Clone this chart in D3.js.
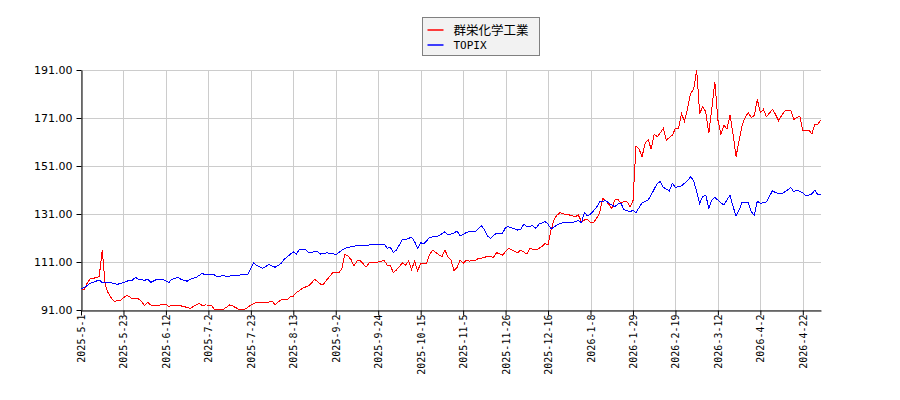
<!DOCTYPE html>
<html>
<head>
<meta charset="utf-8">
<script src="https://cdn.jsdelivr.net/npm/d3@7"></script>
<style>
  body { margin: 0; background: #fff; }
  svg { display: block; }
</style>
</head>
<body>
<svg id="chart" width="900" height="400"></svg>
<script>
// tick labels, one every 14 trading days
const tickLabels = [
    '2025-5-1', '2025-5-23', '2025-6-12', '2025-7-2', '2025-7-23', '2025-8-13',
    '2025-9-2', '2025-9-24', '2025-10-15', '2025-11-5', '2025-11-26', '2025-12-16',
    '2026-1-8', '2026-1-29', '2026-2-19', '2026-3-12', '2026-4-2', '2026-4-22'
];
const tickStep = 14;
const lastIndex = 244;

const yTicks = [91, 111, 131, 151, 171, 191];

const seriesNames = ['群栄化学工業', 'TOPIX'];
const seriesColors = ['#ff0000', '#0000ff'];

// [trading day index, relative value]
const companySeries = [
    [0,100.0],[1,99.3],[2,102.1],[3,103.9],[5,104.5],[6,104.9],[7,116.0],[8,101.5],[9,98.0],[10,96.0],
    [11,94.5],[12,95.0],[13,95.0],[15,97.1],[16,96.5],[17,95.6],[19,95.6],[20,94.5],[21,92.8],[22,94.2],
    [23,93.1],[25,92.7],[26,93.1],[28,93.5],[29,92.4],[30,93.0],[32,93.0],[34,92.4],[36,91.7],[39,93.8],
    [40,92.8],[41,93.1],[43,93.0],[44,91.3],[47,91.3],[49,93.1],[50,92.7],[52,91.3],[54,91.3],[56,93.0],
    [58,94.3],[60,94.3],[62,94.3],[63,94.75],[64,93.1],[65,94.4],[66,95.2],[68,95.4],[69,96.5],[70,96.8],
    [71,98.2],[73,100.0],[75,101.1],[76,102.1],[77,103.8],[79,101.8],[80,101.8],[81,103.5],[83,106.5],[85,106.6],
    [86,108.0],[87,114.2],[88,113.5],[89,112.1],[90,109.3],[91,111.4],[92,111.6],[93,110.3],[94,108.9],[95,110.6],
    [96,110.7],[98,111.0],[100,111.6],[101,109.6],[102,109.6],[103,106.5],[104,107.7],[106,110.6],[107,109.6],[108,111.4],
    [109,107.9],[110,111.4],[111,107.3],[112,110.3],[114,110.5],[115,114.3],[116,116.0],[117,114.9],[119,113.2],[120,116.0],
    [121,113.2],[122,111.8],[123,107.4],[124,108.75],[125,111.8],[126,110.4],[127,111.8],[128,111.4],[130,111.5],[131,112.5],
    [133,112.8],[134,113.5],[136,112.9],[137,114.9],[139,113.9],[141,116.7],[142,116.0],[144,114.9],[145,116.0],[147,114.3],
    [148,116.7],[150,116.0],[152,117.4],[153,118.8],[154,118.1],[155,124.3],[156,128.8],[157,130.6],[158,131.6],[160,130.6],
    [161,130.6],[163,129.9],[164,130.6],[165,127.8],[166,128.5],[167,128.8],[168,127.4],[169,127.4],[170,129.2],[171,131.3],
    [172,137.5],[173,136.5],[174,135.1],[175,133.3],[176,136.8],[177,137.1],[178,135.5],[179,136.2],[180,136.2],[181,134.1],
    [182,136.2],[183,159.3],[184,158.0],[185,154.9],[186,160.5],[187,162.0],[188,158.0],[189,164.3],[190,163.2],[191,164.8],
    [192,166.7],[193,161.8],[194,162.9],[195,163.9],[196,166.7],[197,166.7],[198,172.9],[199,169.5],[200,175.0],[201,181.3],
    [202,182.9],[203,191.0],[204,172.9],[205,175.7],[206,173.6],[207,164.6],[208,175.0],[209,186.1],[210,170.2],[211,164.3],
    [212,168.1],[213,166.3],[214,172.25],[215,164.3],[216,154.9],[217,161.8],[218,168.1],[219,171.3],[220,173.2],[221,171.3],
    [222,172.0],[223,178.75],[224,173.2],[225,174.6],[226,171.5],[228,174.6],[229,172.5],[230,169.9],[231,172.0],[232,173.9],
    [234,174.3],[235,170.4],[237,171.8],[238,165.7],[240,166.0],[241,164.3],[242,168.5],[243,168.5],[244,170.2]
];

const topixSeries = [
    [0,100.0],[1,100.3],[3,102.1],[6,103.5],[7,102.4],[10,102.3],[12,101.7],[14,102.4],[16,103.4],[17,103.5],
    [18,104.6],[19,103.8],[21,103.4],[22,103.8],[23,102.5],[25,103.8],[27,103.8],[29,102.5],[30,103.8],[32,104.6],
    [33,103.8],[35,103.0],[36,103.8],[38,104.6],[40,106.3],[41,105.6],[44,105.6],[45,104.9],[47,105.4],[48,104.9],
    [50,105.4],[52,105.3],[53,105.8],[55,105.8],[56,108.4],[57,110.7],[58,109.5],[60,108.4],[62,110.0],[64,108.8],
    [66,110.4],[67,112.1],[69,114.2],[70,115.3],[71,114.2],[72,116.3],[74,116.3],[75,115.0],[78,115.3],[79,114.3],
    [81,114.8],[83,114.6],[84,113.9],[85,115.0],[87,116.7],[89,117.4],[91,117.8],[93,117.8],[95,118.1],[97,118.1],
    [98,118.5],[100,118.5],[101,116.7],[102,117.1],[103,115.0],[104,116.0],[106,120.4],[107,120.4],[109,121.3],[110,119.5],
    [111,116.7],[112,119.1],[113,118.5],[115,121.3],[117,121.6],[118,121.9],[120,123.6],[121,122.3],[123,123.0],[124,124.0],
    [125,121.9],[127,123.2],[128,123.6],[130,123.6],[132,126.1],[133,124.6],[134,121.9],[135,120.9],[137,123.0],[139,123.0],
    [140,125.4],[141,125.7],[144,124.3],[145,124.6],[146,126.8],[147,125.7],[149,126.1],[150,125.0],[151,126.8],[153,127.8],
    [154,126.8],[155,124.7],[156,125.7],[158,127.1],[160,127.5],[162,127.5],[164,128.2],[165,127.4],[166,131.6],[167,130.2],
    [168,130.9],[170,133.8],[171,136.1],[173,136.5],[174,135.6],[176,134.0],[177,135.1],[178,135.6],[179,132.9],[181,131.9],
    [182,132.6],[183,131.6],[185,135.7],[187,136.8],[188,138.9],[190,143.8],[191,144.5],[192,142.1],[194,140.6],[195,143.8],
    [196,142.1],[198,142.7],[200,144.9],[201,146.5],[202,144.9],[203,140.3],[204,135.5],[205,138.2],[206,138.9],[207,133.4],
    [208,136.8],[209,137.9],[211,135.7],[212,134.75],[214,138.9],[215,134.1],[216,130.2],[217,132.6],[218,136.0],[220,136.0],
    [221,131.9],[222,130.5],[223,136.4],[224,135.4],[225,135.7],[226,136.0],[228,140.7],[229,139.9],[231,139.4],[233,141.0],
    [234,142.1],[235,140.3],[236,141.0],[238,139.9],[239,138.5],[241,139.4],[242,141.0],[243,138.9],[244,139.3]
];

const margin = { top: 70, right: 79, bottom: 90, left: 81 };
const width = 900, height = 400;

const svg = d3.select('#chart');

const x = d3.scaleLinear()
    .domain([0, lastIndex])
    .range([margin.left, width - margin.right]);
const y = d3.scaleLinear()
    .domain([91, 191])
    .range([height - margin.bottom, margin.top]);

const tickIdx = tickLabels.map((d, i) => i * tickStep);

// grid
svg.append('g')
    .selectAll('line')
    .data(yTicks)
    .enter().append('line')
    .attr('x1', margin.left).attr('x2', width - margin.right)
    .attr('y1', d => Math.round(y(d)) + 0.5).attr('y2', d => Math.round(y(d)) + 0.5)
    .attr('stroke', '#cccccc');
svg.append('g')
    .selectAll('line')
    .data(tickIdx)
    .enter().append('line')
    .attr('x1', d => Math.round(x(d)) + 0.5).attr('x2', d => Math.round(x(d)) + 0.5)
    .attr('y1', margin.top).attr('y2', height - margin.bottom)
    .attr('stroke', '#cccccc');

// axes
const xAxis = d3.axisBottom(x)
    .tickValues(tickIdx)
    .tickSize(5)
    .tickSizeOuter(0)
    .tickFormat((d, i) => tickLabels[i]);
const gx = svg.append('g')
    .attr('transform', 'translate(0,' + (height - margin.bottom + 0.5) + ')')
    .call(xAxis);
gx.selectAll('text')
    .attr('font-family', '"DejaVu Sans Mono", monospace')
    .attr('font-size', 10)
    .attr('fill', '#000')
    .attr('text-anchor', 'end')
    .attr('transform', 'translate(0,4) rotate(-90)')
    .attr('x', 0)
    .attr('y', 0)
    .attr('dx', 0)
    .attr('dy', '0.35em');

const yAxis = d3.axisLeft(y)
    .tickValues(yTicks)
    .tickSize(5)
    .tickSizeOuter(0)
    .tickFormat(d3.format('.2f'));
const gy = svg.append('g')
    .attr('transform', 'translate(' + (margin.left + 0.5) + ',0)')
    .call(yAxis);
gy.selectAll('text')
    .attr('font-family', '"DejaVu Sans", sans-serif')
    .attr('font-size', 11)
    .attr('fill', '#000')
    .attr('x', -9);

svg.selectAll('.domain').attr('stroke', '#000');
svg.selectAll('.tick line').attr('stroke', '#000');

// lines
const line = d3.line()
    .x(d => x(d[0]))
    .y(d => y(d[1]));

[companySeries, topixSeries].forEach((s, i) => {
    svg.append('path')
        .datum(s)
        .attr('fill', 'none')
        .attr('stroke', seriesColors[i])
        .attr('stroke-width', 1)
        .attr('shape-rendering', 'crispEdges')
        .attr('d', line);
});

// legend
const legend = svg.append('g').attr('transform', 'translate(422.5,17.5)');
legend.append('rect')
    .attr('width', 117).attr('height', 38)
    .attr('fill', '#f2f2f2')
    .attr('stroke', '#808080');
seriesNames.forEach((name, i) => {
    const row = legend.append('g').attr('transform', 'translate(0,' + (12.5 + i * 15) + ')');
    row.append('line')
        .attr('x1', 5).attr('x2', 21)
        .attr('stroke', seriesColors[i])
        .attr('stroke-width', 1.5);
    row.append('text')
        .attr('x', 31)
        .attr('dy', '0.36em')
        .attr('font-family', i === 0 ? '"Noto Sans CJK JP", sans-serif' : '"DejaVu Sans Mono", monospace')
        .attr('font-size', i === 0 ? 12.5 : 11)
        .attr('fill', '#000')
        .text(name);
});
</script>
</body>
</html>
